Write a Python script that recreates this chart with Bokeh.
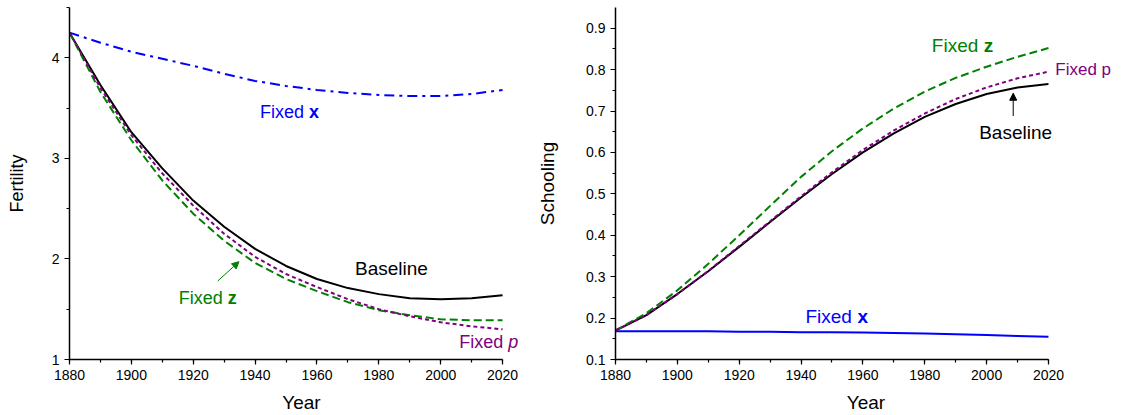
from bokeh.plotting import figure
from bokeh.layouts import row
from bokeh.models import Label, Arrow, NormalHead, FixedTicker
from bokeh.embed import file_html
from bokeh.resources import INLINE

# data, one point per decade
years = list(range(1880, 2021, 10))

fert_baseline = [4.25, 3.73, 3.26, 2.90, 2.58, 2.32, 2.10, 1.93, 1.80, 1.71, 1.65, 1.61, 1.60, 1.61, 1.64]
fert_fixed_x = [4.25, 4.15, 4.06, 3.99, 3.92, 3.84, 3.77, 3.72, 3.68, 3.65, 3.63, 3.62, 3.62, 3.64, 3.68]
fert_fixed_z = [4.25, 3.66, 3.18, 2.78, 2.45, 2.18, 1.96, 1.80, 1.68, 1.57, 1.49, 1.44, 1.40, 1.39, 1.39]
fert_fixed_p = [4.25, 3.70, 3.23, 2.85, 2.53, 2.25, 2.02, 1.85, 1.72, 1.60, 1.50, 1.43, 1.37, 1.33, 1.30]

school_baseline = [0.170, 0.207, 0.258, 0.313, 0.372, 0.432, 0.491, 0.548, 0.600, 0.646, 0.686, 0.717, 0.741, 0.757, 0.765]
school_fixed_p = [0.170, 0.207, 0.258, 0.314, 0.374, 0.434, 0.494, 0.552, 0.606, 0.653, 0.694, 0.729, 0.757, 0.779, 0.795]
school_fixed_z = [0.170, 0.212, 0.267, 0.331, 0.400, 0.471, 0.541, 0.603, 0.658, 0.706, 0.747, 0.780, 0.807, 0.831, 0.852]
school_fixed_x = [0.168, 0.168, 0.168, 0.168, 0.167, 0.167, 0.166, 0.166, 0.165, 0.164, 0.163, 0.161, 0.159, 0.157, 0.155]

x_ticks = list(range(1880, 2021, 20))
x_minor = list(range(1880, 2021, 10))
fert_ticks = [1, 2, 3, 4]
fert_minor = [1.5, 2.5, 3.5, 4.5]
school_ticks = [0.1, 0.2, 0.3, 0.4, 0.5, 0.6, 0.7, 0.8, 0.9]
school_minor = [0.15, 0.25, 0.35, 0.45, 0.55, 0.65, 0.75, 0.85]

FONT = "Liberation Sans"
BLUE = "#0000ff"
GREEN = "#008000"
PURPLE = "#800080"


def make_fig(frame_w, border_left, border_right, x_end, y_range, ylabel, yticks, yminor,
             lab_size, lab_standoff):
    # x range runs past 2020 so the end labels are not clipped; axis is bounded
    p = figure(frame_width=frame_w, frame_height=352, x_range=(1880, x_end), y_range=y_range,
               output_backend="svg", toolbar_location=None,
               min_border_left=border_left, min_border_right=border_right,
               min_border_top=7, min_border_bottom=54)
    p.outline_line_color = None
    p.grid.visible = False
    p.xaxis.ticker = FixedTicker(ticks=x_ticks, minor_ticks=x_minor)
    p.yaxis.ticker = FixedTicker(ticks=yticks, minor_ticks=yminor)
    p.xaxis.bounds = (1880, 2020)
    for ax in (p.xaxis, p.yaxis):
        ax.axis_line_width = 1.5
        ax.major_tick_line_width = 1.2
        ax.minor_tick_line_width = 1.2
        ax.major_tick_out = 5
        ax.major_tick_in = 0
        ax.minor_tick_out = 3
        ax.minor_tick_in = 0
        ax.major_label_text_font = FONT
        ax.major_label_text_font_size = "14px"
        ax.major_label_text_color = "black"
        ax.axis_label_text_font = FONT
        ax.axis_label_text_font_style = "normal"
        ax.axis_label_text_color = "black"
    p.xaxis.axis_label = "Year"
    p.xaxis.axis_label_text_font_size = "19px"
    p.xaxis.axis_label_standoff = 9
    p.yaxis.axis_label = ylabel
    p.yaxis.axis_label_text_font_size = lab_size
    p.yaxis.axis_label_standoff = lab_standoff
    return p


def label(p, x, y, text, color, size="18px", style="normal", offset=0):
    p.add_layout(Label(x=x, y=y, text=text, text_color=color, text_font=FONT,
                       text_font_size=size, text_font_style=style,
                       text_baseline="middle", text_align="left", x_offset=offset))


# left panel: fertility
p1 = make_fig(464, 69, 1, 2030, (1, 4.5), "Fertility", fert_ticks, fert_minor, "18px", 22)
p1.line(years, fert_fixed_x, line_color=BLUE, line_width=2, line_dash="10 5 3 5")
p1.line(years, fert_baseline, line_color="black", line_width=2)
p1.line(years, fert_fixed_z, line_color=GREEN, line_width=2, line_dash="8 4")
p1.line(years, fert_fixed_p, line_color=PURPLE, line_width=2, line_dash="4 3")

label(p1, 1941.6, 3.465, "Fixed ", BLUE)
label(p1, 1941.6, 3.465, "x", BLUE, style="bold", offset=49)
label(p1, 1972.3, 1.90, "Baseline", "black", size="19px")
label(p1, 1915.3, 1.615, "Fixed ", GREEN)
label(p1, 1915.3, 1.615, "z", GREEN, style="bold", offset=49)
label(p1, 2006.0, 1.176, "Fixed ", PURPLE)
label(p1, 2006.0, 1.176, "p", PURPLE, style="italic", offset=49)
p1.add_layout(Arrow(x_start=1927.9, y_start=1.78, x_end=1934.8, y_end=1.973,
                    line_color=GREEN, line_width=1,
                    end=NormalHead(size=7, line_color=GREEN, fill_color=GREEN)))

# right panel: schooling
p2 = make_fig(501, 76, 5, 2042, (0.1, 0.95), "Schooling", school_ticks, school_minor, "19px", 25)
p2.line(years, school_fixed_x, line_color=BLUE, line_width=2)
p2.line(years, school_baseline, line_color="black", line_width=2)
p2.line(years, school_fixed_z, line_color=GREEN, line_width=2, line_dash="8 4")
p2.line(years, school_fixed_p, line_color=PURPLE, line_width=2, line_dash="4 3")

label(p2, 1982.3, 0.858, "Fixed ", GREEN, size="19px")
label(p2, 1982.3, 0.858, "z", GREEN, size="19px", style="bold", offset=52)
label(p2, 2022.2, 0.801, "Fixed p", PURPLE, size="17px")
label(p2, 1997.6, 0.648, "Baseline", "black", size="19px")
label(p2, 1941.4, 0.204, "Fixed ", BLUE, size="19px")
label(p2, 1941.4, 0.204, "x", BLUE, size="19px", style="bold", offset=52)
p2.add_layout(Arrow(x_start=2008.6, y_start=0.688, x_end=2008.6, y_end=0.743,
                    line_color="black", line_width=1,
                    end=NormalHead(size=7, line_color="black", fill_color="black")))

layout = row(p1, p2)
open("out.html", "w").write(file_html(layout, INLINE))
